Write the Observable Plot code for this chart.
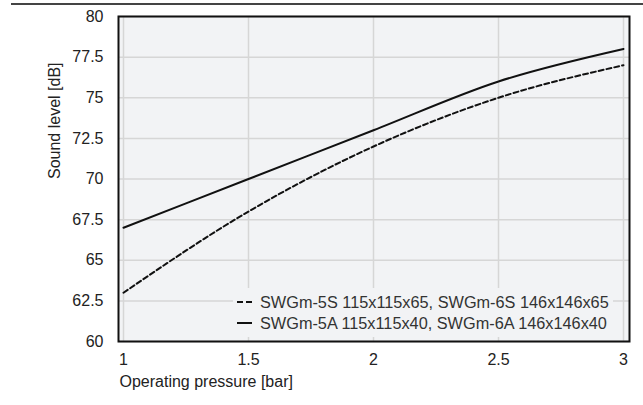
<!DOCTYPE html>
<html><head><meta charset="utf-8">
<script src="https://cdn.jsdelivr.net/npm/d3@7"></script>
<script src="https://cdn.jsdelivr.net/npm/@observablehq/plot@0.6"></script>
<style>
body{margin:0;background:#fff;font-family:"Liberation Sans",Arial,sans-serif;}
#wrap{position:relative;width:643px;height:405px;overflow:hidden;}
#topline{position:absolute;left:11px;right:0;top:3px;height:2px;background:#444;}
#legend{position:absolute;left:233px;top:288px;width:380px;height:49px;background:#f2f3f5;font-size:16.3px;color:#333;}
#legend .row{position:absolute;left:4px;height:20px;display:flex;align-items:center;white-space:nowrap;}
#legend svg{margin-right:7px;}
</style></head>
<body>
<div id="wrap"><div id="chart"></div><div id="topline"></div><div id="legend"></div></div>
<script>
const pressure = [1, 1.5, 2, 2.5, 3];
const seriesS = [63, 68, 72, 75, 77];
const seriesA = [67, 70, 73, 76, 78];
const seriesNames = ["SWGm-5S 115x115x65, SWGm-6S 146x146x65", "SWGm-5A 115x115x40, SWGm-6A 146x146x40"];
const xTicks = [1, 1.5, 2, 2.5, 3];
const yTicks = [60, 62.5, 65, 67.5, 70, 72.5, 75, 77.5, 80];
const xLabel = "Operating pressure [bar]";
const yLabel = "Sound level [dB]";

const dataS = pressure.map((p, i) => ({p, v: seriesS[i]}));
const dataA = pressure.map((p, i) => ({p, v: seriesA[i]}));

const chart = Plot.plot({
  width: 643, height: 405,
  marginLeft: 118, marginRight: 14, marginTop: 16, marginBottom: 64,
  style: {fontFamily: '"Liberation Sans", Arial, sans-serif', fontSize: "16px", color: "#222", background: "transparent"},
  x: {domain: [0.98, 3.024]},
  y: {domain: [60, 80]},
  marks: [
    Plot.frame({fill: "#f2f3f5", stroke: null}),
    Plot.ruleX(xTicks, {stroke: "#d6d6d6", strokeWidth: 1.5}),
    Plot.ruleY(yTicks, {stroke: "#d6d6d6", strokeWidth: 1.5}),
    Plot.line(dataS, {x: "p", y: "v", curve: "monotone-x", stroke: "#111", strokeWidth: 2, strokeDasharray: "5,3"}),
    Plot.line(dataA, {x: "p", y: "v", curve: "monotone-x", stroke: "#111", strokeWidth: 2}),
    Plot.frame({stroke: "#111", strokeWidth: 2}),
    Plot.axisX(xTicks, {tickSize: 0, tickPadding: 12, tickFormat: d => String(d), label: null}),
    Plot.axisY(yTicks, {tickSize: 0, tickPadding: 15, tickFormat: d => String(d), label: null}),
    Plot.text([xLabel], {frameAnchor: "bottom-left", text: d => d, textAnchor: "start", dx: 1, dy: 45}),
    Plot.text([yLabel], {frameAnchor: "left", text: d => d, rotate: -90, dx: -64})
  ]
});
document.getElementById("chart").appendChild(chart);

const legend = document.getElementById("legend");
seriesNames.forEach((name, i) => {
  const row = document.createElement("div");
  row.className = "row";
  row.style.top = (i === 0 ? 4 : 25) + "px";
  const dash = i === 0 ? 'stroke-dasharray="6,3"' : '';
  row.innerHTML = `<svg width="16" height="4"><line x1="0" y1="2" x2="15" y2="2" stroke="#111" stroke-width="2" ${dash}/></svg><span>${name}</span>`;
  legend.appendChild(row);
});
</script>
</body></html>
